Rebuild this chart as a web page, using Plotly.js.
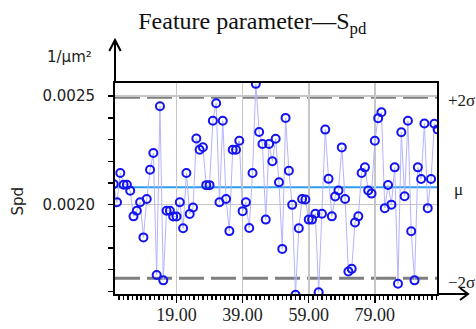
<!DOCTYPE html>
<html>
<head>
<meta charset="utf-8">
<script src="https://cdn.plot.ly/plotly-3.0.1.min.js"></script>
<style>html,body{margin:0;padding:0;background:#fff;}#chart{width:476px;height:329px;}</style>
</head>
<body>
<div id="chart"></div>
<script>
// Spd values per sample (1/µm²)
const spdValues = [
  0.002095,0.002011,0.002146,0.002092,0.002092,0.002064,0.001946,0.001972,0.002011,0.001849,
  0.002026,0.002161,0.002238,0.001676,0.002454,0.001651,0.001972,0.001972,0.001945,0.001945,
  0.002011,0.001891,0.002146,0.001957,0.001987,0.002305,0.002253,0.002265,0.002090,0.002090,
  0.002387,0.002468,0.002011,0.002387,0.002026,0.001878,0.002253,0.002253,0.002295,0.001970,
  0.002011,0.001892,0.002146,0.002557,0.002335,0.002280,0.001931,0.002280,0.002200,0.002304,
  0.002103,0.001796,0.002400,0.002156,0.001999,0.001584,0.001891,0.002026,0.002024,0.001931,
  0.001931,0.001958,0.001596,0.001958,0.002346,0.002119,0.001946,0.002038,0.002065,0.002264,
  0.002026,0.001692,0.001704,0.001918,0.001946,0.002146,0.002172,0.002065,0.002051,0.002295,
  0.002399,0.002426,0.001984,0.002091,0.002000,0.002172,0.001635,0.002334,0.002039,0.002387,
  0.001877,0.001651,0.002172,0.002118,0.002374,0.001984,0.002118,0.002373,0.002347
];
const sampleIndex = spdValues.map((v, i) => i);
const xTickVals = [19, 39, 59, 79];
const yTickVals = [0.0020, 0.0025];
const meanValue = 0.00208;
const upperLimit = 0.002495;
const lowerLimit = 0.001661;
const limitLabels = ['+2σ', 'μ', '−2σ'];

const serif = 'Liberation Serif, Times New Roman, serif';
const sans = 'DejaVu Sans, Verdana, sans-serif';

const traces = [{
  x: sampleIndex,
  y: spdValues,
  type: 'scatter',
  mode: 'lines+markers',
  cliponaxis: true,
  line: {color: '#b4b4ff', width: 1},
  marker: {symbol: 'circle-open', size: 8, color: '#1414f0', line: {width: 2}},
  hoverinfo: 'x+y'
}];

const black = '#000';
const shapes = [
  {type: 'line', xref: 'paper', yref: 'y', x0: 0, x1: 1, y0: upperLimit, y1: upperLimit,
   line: {color: '#7f7f7f', width: 3, dash: '25px,7px'}, layer: 'between'},
  {type: 'line', xref: 'paper', yref: 'y', x0: 0, x1: 1, y0: lowerLimit, y1: lowerLimit,
   line: {color: '#7f7f7f', width: 3, dash: '25px,7px'}, layer: 'between'},
  {type: 'line', xref: 'paper', yref: 'y', x0: 0, x1: 1, y0: meanValue, y1: meanValue,
   line: {color: '#2b9cf2', width: 2}, layer: 'between'},
  // axis extensions with arrows
  {type: 'line', xref: 'paper', yref: 'paper', x0: 0, x1: 0, y0: 1, y1: 1.204,
   line: {color: black, width: 2}},
  {type: 'path', xref: 'paper', yref: 'paper', path: 'M -0.0177,1.1517 L 0,1.2038 L 0.0177,1.1517',
   line: {color: black, width: 2}},
  {type: 'line', xref: 'paper', yref: 'paper', x0: 1, x1: 1.0963, y0: 0, y1: 0,
   line: {color: black, width: 2}},
  {type: 'path', xref: 'paper', yref: 'paper', path: 'M 1.0714,0.0284 L 1.0963,0 L 1.0714,-0.0284',
   line: {color: black, width: 2}}
];

const annotations = [
  {xref: 'paper', yref: 'y', x: 1.029, y: upperLimit, yshift: -3, xanchor: 'left', yanchor: 'middle',
   text: limitLabels[0], showarrow: false, font: {family: serif, size: 17, color: '#222'}},
  {xref: 'paper', yref: 'y', x: 1.046, y: meanValue, yshift: -2, xanchor: 'left', yanchor: 'middle',
   text: limitLabels[1], showarrow: false, font: {family: serif, size: 17, color: '#222'}},
  {xref: 'paper', yref: 'y', x: 1.029, y: lowerLimit, yshift: -4, xanchor: 'left', yanchor: 'middle',
   text: limitLabels[2], showarrow: false, font: {family: serif, size: 17, color: '#222'}},
  {xref: 'paper', yref: 'paper', x: -0.14, y: 1.123, xanchor: 'center', yanchor: 'middle',
   text: '1/μm²', showarrow: false, font: {family: sans, size: 15, color: '#222'}},
  {xref: 'paper', yref: 'paper', x: -0.30, y: 0.44, xanchor: 'center', yanchor: 'middle', textangle: -90,
   text: 'Spd', showarrow: false, font: {family: sans, size: 15, color: '#222'}}
];

const layout = {
  width: 476, height: 329,
  margin: {l: 115, r: 39, t: 83, b: 35, pad: 0},
  paper_bgcolor: '#fff', plot_bgcolor: '#fff',
  showlegend: false,
  title: {
    text: 'Feature parameter—S<sub>pd</sub>',
    xref: 'container', yref: 'container', x: 0.53, y: 0.936, xanchor: 'center', yanchor: 'middle',
    font: {family: serif, size: 24, color: '#111'}
  },
  xaxis: {
    range: [0.4, 97.8],
    tickvals: xTickVals, tickformat: '.2f',
    ticks: 'outside', ticklen: 7, tickwidth: 1.5, tickcolor: black,
    minor: {dtick: 20 / 15, tick0: 19, ticks: 'outside', ticklen: 4, tickwidth: 1.5, tickcolor: black, showgrid: false},
    showgrid: true, gridcolor: '#c6c6c6', gridwidth: 1.6,
    showline: true, linecolor: black, linewidth: 2, mirror: true,
    zeroline: false,
    ticklabelstandoff: -4,
    tickfont: {family: serif, size: 18, color: '#222'}
  },
  yaxis: {
    range: [0.001588, 0.002561],
    tickvals: yTickVals, tickformat: '.4f',
    ticks: 'outside', ticklen: 5, tickwidth: 1.5, tickcolor: black,
    minor: {dtick: 0.0001, tick0: 0.0020, ticks: 'outside', ticklen: 5, tickwidth: 1.5, tickcolor: black, showgrid: false},
    showgrid: true, gridcolor: '#c6c6c6', gridwidth: 1.6,
    showline: true, linecolor: black, linewidth: 2, mirror: true,
    zeroline: false,
    ticklabelstandoff: 10,
    tickfont: {family: sans, size: 15, color: '#222'}
  },
  shapes: shapes,
  annotations: annotations
};

Plotly.newPlot('chart', traces, layout, {staticPlot: true, displayModeBar: false});
</script>
</body>
</html>
